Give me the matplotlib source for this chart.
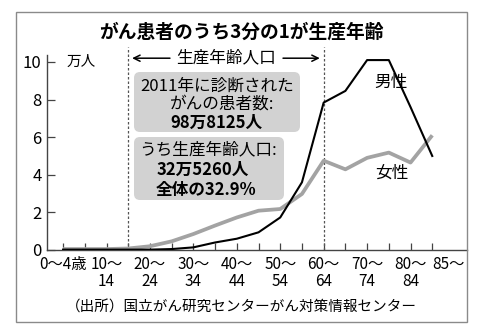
import numpy as np
import matplotlib.pyplot as plt
from matplotlib.patches import FancyBboxPatch, Rectangle

plt.rcParams['font.family'] = ['Noto Sans CJK JP', 'DejaVu Sans']

# age groups 0-4 ... 80-84, 85+ (patients, 10k people)
AGES = ['0～4歳', '', '10～\n14', '', '20～\n24', '', '30～\n34', '', '40～\n44', '',
        '50～\n54', '', '60～\n64', '', '70～\n74', '', '80～\n84', '85～']
MALE = [0.02, 0.02, 0.02, 0.02, 0.02, 0.05, 0.14, 0.4, 0.6, 0.94,
        1.73, 3.6, 7.84, 8.46, 10.1, 10.1, 7.6, 5.0]
FEMALE = [0.05, 0.05, 0.05, 0.08, 0.2, 0.46, 0.85, 1.3, 1.73, 2.09,
          2.18, 2.98, 4.75, 4.29, 4.9, 5.18, 4.65, 6.1]
WORK_AGE = (3, 12)  # 15-64

W, H = 480, 333
fig = plt.figure(figsize=(W / 100, H / 100), dpi=100)

# outer frame
fig.patches.append(Rectangle((16 / W, 1 - 322 / H), 451 / W, 310 / H, fill=False,
                             edgecolor='#8a8a8a', lw=1.0, transform=fig.transFigure))

ax = fig.add_axes([47 / W, 1 - 250 / H, 420 / W, 195 / H])
x = np.arange(len(MALE))
ax.plot(x, FEMALE, color='#a3a3a3', lw=2.7, solid_capstyle='butt', zorder=3)
ax.plot(x, MALE, color='black', lw=1.5, zorder=4)

ax.set_xlim(-0.74, 18.6)
ax.set_ylim(0, 10.37)
for s in ['top', 'right']:
    ax.spines[s].set_visible(False)
for s in ['left', 'bottom']:
    ax.spines[s].set_color('#444444')
    ax.spines[s].set_linewidth(1.0)

ax.set_yticks([0, 2, 4, 6, 8, 10])
ax.tick_params(axis='y', direction='in', length=6, width=0.9, color='#444444',
               labelsize=12, pad=4)
ax.set_xticks(x)
ax.set_xticklabels(AGES, fontsize=11, linespacing=1.05)
ax.tick_params(axis='x', direction='in', length=5, width=0.9, color='#444444', pad=4)
last = ax.get_xticklabels()[-1]
last.set_horizontalalignment('left')
last.set_x(17 - 0.05)

ax.text(0.15, 10.0, '万人', fontsize=10.5, va='center', ha='left')

# productive-age band
for xv in WORK_AGE:
    ax.plot([xv, xv], [0, 10.8], color='#555555', lw=0.9, ls=(0, (2, 1.6)),
            clip_on=False, zorder=2)
ya = 10.2
arrow = dict(arrowstyle='->,head_length=0.45,head_width=0.22', color='black', lw=1.1)
ax.annotate('', xy=(WORK_AGE[0] + 0.05, ya), xytext=(5.05, ya),
            arrowprops=arrow, annotation_clip=False)
ax.annotate('', xy=(WORK_AGE[1] - 0.05, ya), xytext=(10.0, ya),
            arrowprops=arrow, annotation_clip=False)
ax.text(7.52, ya, '生産年齢人口', fontsize=12, ha='center', va='center')

ax.text(15.1, 8.9, '男性', fontsize=12, ha='center', va='center')
ax.text(15.15, 4.1, '女性', fontsize=12, ha='center', va='center')

# note boxes (inches from figure bottom-left)
tr = fig.dpi_scale_trans
for (x0, y0, x1, y1) in [(134, 72, 300, 132), (134, 137, 284, 200)]:
    fig.patches.append(FancyBboxPatch((x0 / 100, (H - y1) / 100), (x1 - x0) / 100,
                                      (y1 - y0) / 100,
                                      boxstyle='round,pad=0,rounding_size=0.06',
                                      fc='#d2d2d2', ec='none', transform=tr))

lines = [
    ('2011年に診断された', 217, 86, 'normal'),
    ('がんの患者数:', 222, 104, 'normal'),
    ('98万8125人', 216, 123, 'bold'),
    ('うち生産年齢人口:', 208, 150, 'normal'),
    ('32万5260人', 203, 170, 'bold'),
    ('全体の32.9%', 206, 190, 'bold'),
]
for txt, px, py, wt in lines:
    fig.text(px / 100, (H - py) / 100, txt, transform=tr, fontsize=12,
             fontweight=wt, ha='center', va='center')

fig.text(241 / W, 1 - 32 / H, 'がん患者のうち3分の1が生産年齢', fontsize=13.5,
         fontweight='bold', ha='center', va='center')
fig.text(241 / W, 1 - 308 / H, '（出所）国立がん研究センターがん対策情報センター',
         fontsize=10.5, ha='center', va='center')

fig.savefig('out.png', dpi=100)
